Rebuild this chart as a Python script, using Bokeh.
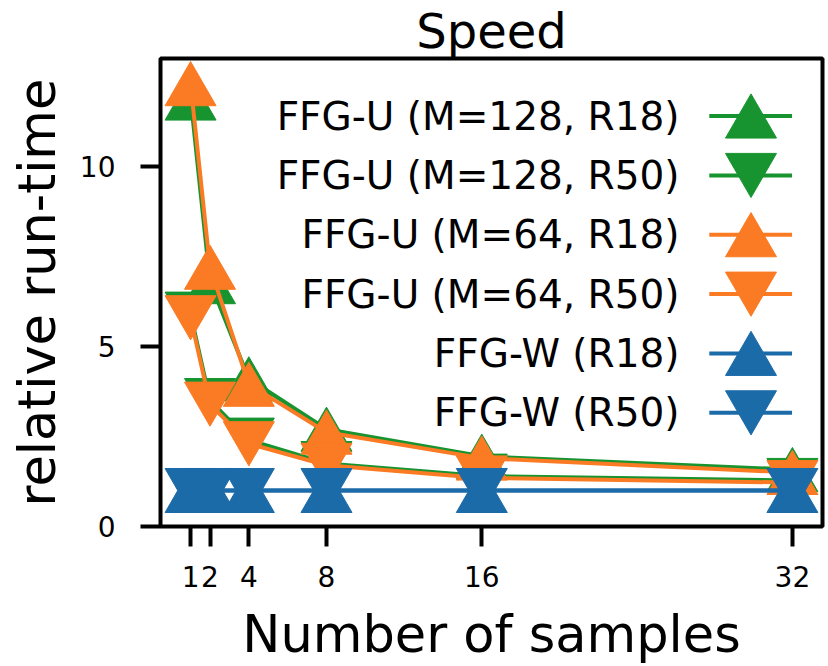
import math
from bokeh.plotting import figure
from bokeh.models import Range1d, FixedTicker, ColumnDataSource
from bokeh.transform import dodge
from bokeh.embed import file_html
from bokeh.resources import INLINE
from bokeh.core.properties import value

# ---- data ----
samples = [1, 2, 4, 8, 16, 32]
ffg_u_m128_r18 = [11.9, 6.8, 4.1, 2.7, 1.95, 1.58]
ffg_u_m128_r50 = [5.9, 3.5, 2.4, 1.75, 1.4, 1.28]
ffg_u_m64_r18 = [12.3, 7.2, 3.95, 2.62, 1.9, 1.5]
ffg_u_m64_r50 = [5.8, 3.4, 2.3, 1.7, 1.35, 1.22]
ffg_w_r18 = [1.0, 1.0, 1.0, 1.0, 1.0, 1.0]
ffg_w_r50 = [1.0, 1.0, 1.0, 1.0, 1.0, 1.0]

labels = [
    "FFG-U (M=128, R18)",
    "FFG-U (M=128, R50)",
    "FFG-U (M=64, R18)",
    "FFG-U (M=64, R50)",
    "FFG-W (R18)",
    "FFG-W (R50)",
]
x_ticks = [1, 2, 4, 8, 16, 32]
y_ticks = [0, 5, 10]

GREEN = "#17942f"
ORANGE = "#fa7b23"
BLUE = "#1c6ba9"

series = [
    (ffg_u_m128_r18, GREEN, "triangle"),
    (ffg_u_m128_r50, GREEN, "inverted_triangle"),
    (ffg_u_m64_r18, ORANGE, "triangle"),
    (ffg_u_m64_r50, ORANGE, "inverted_triangle"),
    (ffg_w_r18, BLUE, "triangle"),
    (ffg_w_r50, BLUE, "inverted_triangle"),
]

FONT = "DejaVu Sans"
MSIZE = 51
LW = 4
W, H = 828, 666
B_LEFT, B_RIGHT, B_TOP, B_BOTTOM = 160, 6, 55, 138
Y0, Y1 = 0.0, 13.0
FRAME_H = H - B_TOP - B_BOTTOM

# Bokeh triangles are centred on their centroid, matplotlib-style ones on
# their bounding box: shift by h/6 (in pixels) converted to data units.
TRI_SHIFT_PX = MSIZE * math.sqrt(3) / 2 / 6


def tri_shift(marker, px_per_unit):
    s = TRI_SHIFT_PX / px_per_unit
    return -s if marker == "triangle" else s


p = figure(
    width=W, height=H,
    x_range=Range1d(-0.55, 33.55), y_range=Range1d(Y0, Y1),
    min_border_left=B_LEFT, min_border_right=B_RIGHT,
    min_border_top=B_TOP, min_border_bottom=B_BOTTOM,
    output_backend="svg", toolbar_location=None,
    title="Speed",
)

p.title.text_font = FONT
p.title.text_font_size = "48px"
p.title.text_font_style = "normal"
p.title.text_color = "black"
p.title.align = "center"
p.title.standoff = 0
p.title.offset = 0

p.outline_line_color = "black"
p.outline_line_width = 4
p.outline_line_alpha = 1
p.xgrid.visible = False
p.ygrid.visible = False
p.background_fill_color = "white"
p.border_fill_color = "white"

for ax in (p.xaxis[0], p.yaxis[0]):
    ax.axis_line_color = None
    ax.major_tick_line_color = "black"
    ax.major_tick_line_width = 4
    ax.major_tick_out = 20
    ax.major_tick_in = 0
    ax.minor_tick_line_color = None
    ax.major_label_text_font = FONT
    ax.major_label_text_font_size = "28px"
    ax.major_label_text_color = "black"
    ax.axis_label_text_font = FONT
    ax.axis_label_text_font_size = "51px"
    ax.axis_label_text_font_style = "normal"
    ax.axis_label_text_color = "black"

p.xaxis.ticker = FixedTicker(ticks=x_ticks)
p.yaxis.ticker = FixedTicker(ticks=y_ticks)
p.xaxis.major_label_standoff = 19
p.yaxis.major_label_standoff = 25
p.xaxis.axis_label = "Number of samples"
p.yaxis.axis_label = "relative run-time"
p.xaxis.axis_label_standoff = 15
p.yaxis.axis_label_standoff = 10

ppu_data = FRAME_H / (Y1 - Y0)
for ys, color, marker in series:
    src = ColumnDataSource(dict(x=samples, y=ys))
    p.line("x", "y", source=src, line_color=color, line_width=LW)
    p.scatter("x", dodge("y", tri_shift(marker, ppu_data)), source=src,
              marker=marker, size=MSIZE,
              fill_color=color, line_color=color, line_width=1)

# ---- legend drawn in axes-fraction coordinates (like matplotlib's transAxes) ----
p.extra_x_ranges = {"ax": Range1d(0, 1)}
p.extra_y_ranges = {"ay": Range1d(0, 1)}

LEG_TOP = 0.877
LEG_STEP = 0.1268
LEG_X0, LEG_X1, LEG_XM, LEG_TX = 0.829, 0.954, 0.892, 0.784

for i, (ys, color, marker) in enumerate(series):
    yy = LEG_TOP - i * LEG_STEP
    p.segment(x0=[LEG_X0], y0=[yy], x1=[LEG_X1], y1=[yy],
              line_color=color, line_width=LW,
              x_range_name="ax", y_range_name="ay")
    p.scatter(x=[LEG_XM], y=[yy + tri_shift(marker, FRAME_H)], marker=marker,
              size=MSIZE, fill_color=color, line_color=color,
              x_range_name="ax", y_range_name="ay")
    p.text(x=[LEG_TX], y=[yy], text=[labels[i]],
           text_align="right", text_baseline="middle",
           text_font=value(FONT), text_font_size="39px", text_color="black",
           x_range_name="ax", y_range_name="ay")

open("out.html", "w").write(file_html(p, INLINE))
